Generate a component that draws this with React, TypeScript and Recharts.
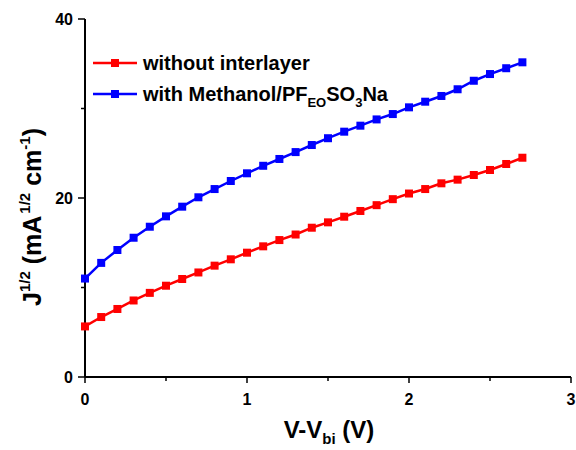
import React from 'react';
import { LineChart, Line, XAxis, YAxis } from 'recharts';

// V - Vbi (V)
const voltage = [
  0, 0.1, 0.2, 0.3, 0.4, 0.5, 0.6, 0.7, 0.8, 0.9, 1.0, 1.1, 1.2, 1.3,
  1.4, 1.5, 1.6, 1.7, 1.8, 1.9, 2.0, 2.1, 2.2, 2.3, 2.4, 2.5, 2.6, 2.7,
];

// J^1/2 (mA^1/2 cm^-1)
const withoutInterlayer = [
  5.65, 6.7, 7.6, 8.55, 9.4, 10.2, 10.95, 11.68, 12.44, 13.15, 13.89, 14.6, 15.3, 15.92,
  16.68, 17.28, 17.91, 18.55, 19.2, 19.87, 20.5, 21.0, 21.64, 22.05, 22.57, 23.13, 23.8, 24.5,
];
const withMethanol = [
  11.0, 12.75, 14.19, 15.56, 16.79, 17.95, 19.03, 20.08, 21.0, 21.9, 22.76, 23.6, 24.36, 25.13,
  25.92, 26.68, 27.41, 28.08, 28.78, 29.38, 30.13, 30.76, 31.4, 32.15, 33.1, 33.85, 34.5, 35.16,
];

const xTicks = [0, 0.5, 1, 1.5, 2, 2.5, 3];
const yTicks = [0, 10, 20, 30, 40];

const data = voltage.map((v, i) => ({
  v,
  without: withoutInterlayer[i],
  with: withMethanol[i],
}));

const FONT = '"Liberation Sans", Arial, sans-serif';
const RED = '#ff0000';
const BLUE = '#0000ff';

const isMajorX = (v: number) => Number.isInteger(v);
const isMajorY = (v: number) => v % 20 === 0;

// tick marks: outward on left/bottom, inward on top/right
const BottomTick = ({ x, y, payload }: any) => {
  const major = isMajorX(payload.value);
  return (
    <g>
      <line x1={x} x2={x} y1={y} y2={y + (major ? 6 : 4)} stroke="#000" strokeWidth={1.5} />
      {major && (
        <text x={x} y={y + 28} textAnchor="middle" fontFamily={FONT} fontWeight="bold" fontSize={16} fill="#000">
          {payload.value}
        </text>
      )}
    </g>
  );
};

const TopTick = ({ x, y, payload }: any) => {
  const major = isMajorX(payload.value);
  return <line x1={x} x2={x} y1={y} y2={y + (major ? 6 : 4)} stroke="#000" strokeWidth={1.5} />;
};

const LeftTick = ({ x, y, payload }: any) => {
  const major = isMajorY(payload.value);
  return (
    <g>
      <line x1={x - (major ? 7 : 4)} x2={x} y1={y} y2={y} stroke="#000" strokeWidth={1.5} />
      {major && (
        <text x={x - 12} y={y + 6} textAnchor="end" fontFamily={FONT} fontWeight="bold" fontSize={16} fill="#000">
          {payload.value}
        </text>
      )}
    </g>
  );
};

const RightTick = ({ x, y, payload }: any) => {
  const major = isMajorY(payload.value);
  return <line x1={x - (major ? 6 : 4)} x2={x} y1={y} y2={y} stroke="#000" strokeWidth={1.5} />;
};

const squareDot = (color: string) => (p: any) => (
  <rect key={p.index} x={p.cx - 4} y={p.cy - 4} width={8} height={8} fill={color} />
);

const ChartText = () => (
  <g fontFamily={FONT} fontWeight="bold" fill="#000">
    {/* y axis title */}
    <text transform="translate(41,217) rotate(-90)" textAnchor="middle" fontSize={25}>
      J<tspan fontSize={15} dy={-11}>1/2</tspan>
      <tspan dy={11}> (mA</tspan>
      <tspan fontSize={15} dx={2} dy={-11}>1/2</tspan>
      <tspan dy={11}> cm</tspan>
      <tspan fontSize={15} dy={-11}>-1</tspan>
      <tspan dy={11}>)</tspan>
    </text>
    {/* x axis title */}
    <text x={329} y={438} textAnchor="middle" fontSize={24}>
      V-V<tspan fontSize={15} dy={6}>bi</tspan>
      <tspan dy={-6}> (V)</tspan>
    </text>
    {/* legend */}
    <line x1={93} x2={137} y1={63} y2={63} stroke={RED} strokeWidth={2.5} />
    <rect x={111} y={59} width={8} height={8} fill={RED} />
    <text x={143} y={70} fontSize={20}>without interlayer</text>
    <line x1={93} x2={137} y1={94} y2={94} stroke={BLUE} strokeWidth={2.5} />
    <rect x={111} y={90} width={8} height={8} fill={BLUE} />
    <text x={143} y={101} fontSize={20}>
      with Methanol/PF<tspan fontSize={13} dy={6}>EO</tspan>
      <tspan dy={-6}>SO</tspan>
      <tspan fontSize={13} dy={6}>3</tspan>
      <tspan dy={-6}>Na</tspan>
    </text>
  </g>
);

const App = () => {
  const axisLine = { stroke: '#000', strokeWidth: 2 };
  return (
    <div style={{ width: 576, height: 450 }}>
      <style>{'body{margin:0}'}</style>
      <LineChart width={576} height={450} data={data} margin={{ top: 19, right: 5, bottom: 0, left: 0 }}>
        <XAxis
          dataKey="v"
          type="number"
          domain={[0, 3]}
          ticks={xTicks}
          interval={0}
          height={73}
          axisLine={axisLine}
          tickLine={false}
          tickSize={0}
          tickMargin={0}
          tick={<BottomTick />}
        />
        <XAxis
          xAxisId="top"
          orientation="top"
          type="number"
          domain={[0, 3]}
          allowDataOverflow
          ticks={xTicks}
          interval={0}
          height={0}
          axisLine={axisLine}
          tickLine={false}
          tickSize={0}
          tickMargin={0}
          tick={<TopTick />}
        />
        <YAxis
          type="number"
          domain={[0, 40]}
          ticks={yTicks}
          interval={0}
          width={85}
          axisLine={axisLine}
          tickLine={false}
          tickSize={0}
          tickMargin={0}
          tick={<LeftTick />}
        />
        <YAxis
          yAxisId="right"
          orientation="right"
          type="number"
          domain={[0, 40]}
          allowDataOverflow
          ticks={yTicks}
          interval={0}
          width={0}
          axisLine={axisLine}
          tickLine={false}
          tickSize={0}
          tickMargin={0}
          tick={<RightTick />}
        />
        <Line
          type="linear"
          dataKey="without"
          stroke={RED}
          strokeWidth={2.5}
          dot={squareDot(RED)}
          isAnimationActive={false}
        />
        <Line
          type="linear"
          dataKey="with"
          stroke={BLUE}
          strokeWidth={2.5}
          dot={squareDot(BLUE)}
          isAnimationActive={false}
        />
        <ChartText />
      </LineChart>
    </div>
  );
};

export default App;
